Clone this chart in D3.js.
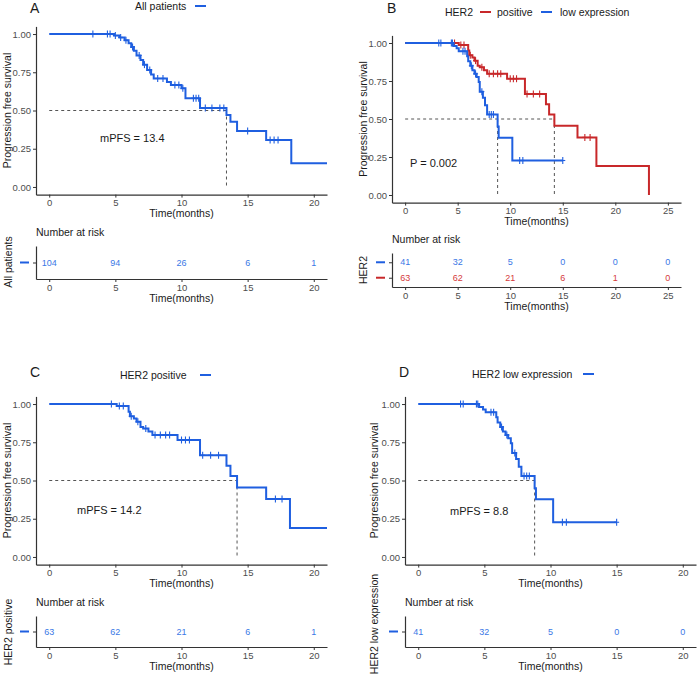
<!DOCTYPE html>
<html>
<head>
<meta charset="utf-8">
<script src="https://cdn.jsdelivr.net/npm/d3@7"></script>
<style>
  body { margin: 0; background: #fff; }
  text { font-family: "Liberation Sans", Arial, sans-serif; }
</style>
</head>
<body>
<div id="chart"></div>
<script>
// ---- data ----
// all patients: event times and survival after each step
var allT = [0, 4.9, 5.3, 5.7, 6.0, 6.2, 6.4, 6.6, 6.9, 7.1, 7.4, 7.7, 7.9, 8.9, 9.2, 10.0, 10.3, 11.4, 13.4, 13.7, 14.2, 16.4, 18.3];
var allS = [1, 0.99, 0.978, 0.96, 0.94, 0.915, 0.89, 0.86, 0.83, 0.80, 0.765, 0.735, 0.71, 0.686, 0.667, 0.645, 0.58, 0.516, 0.47, 0.427, 0.366, 0.307, 0.155];
var allCens = [3.3, 4.4, 4.6, 5.0, 5.4, 5.8, 6.3, 6.8, 7.2, 7.6, 8.2, 8.6, 9.5, 9.8, 10.1, 10.9, 11.1, 11.3, 11.8, 12.3, 12.9, 13.2, 15.0, 16.7, 17.0, 17.3];
var allEnd = 21;

// HER2 positive
var posT = [0, 5.1, 6.0, 6.1, 6.4, 6.6, 6.9, 7.1, 7.5, 7.8, 9.7, 11.4, 13.4, 13.7, 14.2, 16.4, 18.2, 23.2];
var posS = [1, 0.987, 0.95, 0.92, 0.905, 0.884, 0.85, 0.84, 0.82, 0.797, 0.765, 0.665, 0.597, 0.53, 0.455, 0.379, 0.19, 0];
var posCens = [4.7, 5.3, 5.6, 6.2, 6.7, 7.3, 8.0, 8.4, 8.8, 9.1, 10.0, 10.3, 10.6, 11.6, 12.2, 12.8, 17.1, 17.6];
var posEnd = 23.2;

// HER2 low expression
var lowT = [0, 4.6, 4.9, 5.1, 5.9, 6.0, 6.2, 6.4, 6.6, 6.8, 7.0, 7.1, 7.4, 7.6, 7.8, 8.8, 8.9, 10.2];
var lowS = [1, 0.98, 0.965, 0.946, 0.913, 0.88, 0.85, 0.82, 0.797, 0.776, 0.743, 0.68, 0.64, 0.59, 0.53, 0.45, 0.377, 0.227];
var lowCens = [3.2, 3.4, 4.4, 4.5, 5.5, 5.7, 6.3, 6.7, 7.3, 8.0, 8.2, 8.4, 10.9, 11.2, 15.0];
var lowEnd = 15.0;

var medAll = 13.4, medPos = 14.2, medLow = 8.8;
var pValue = "0.002";

var yTicks = [0, 0.25, 0.5, 0.75, 1];
var riskTicks20 = [0, 5, 10, 15, 20];
var riskTicks25 = [0, 5, 10, 15, 20, 25];
var riskAll = [104, 94, 26, 6, 1];
var riskPos = [63, 62, 21, 6, 1];
var riskLow = [41, 32, 5, 0, 0];
var riskPosB = [63, 62, 21, 6, 1, 0];
var riskLowB = [41, 32, 5, 0, 0, 0];

var blue = "#1f5fe0", red = "#c8282a";
var blueTxt = "#3a78e6", redTxt = "#d53a3a";
var axisCol = "#333333", tickCol = "#4d4d4d";

var svg = d3.select("#chart").append("svg")
  .attr("width", 697).attr("height", 675);

function styleAxis(g) {
  g.selectAll("path.domain").attr("stroke", axisCol).attr("stroke-width", 1.2);
  g.selectAll(".tick line").attr("stroke", axisCol).attr("stroke-width", 1);
  g.selectAll(".tick text").attr("fill", tickCol).style("font-size", "9.5px")
    .style("font-family", "'Liberation Sans', Arial, sans-serif");
}

function label(x, y, txt, size, opts) {
  opts = opts || {};
  var t = svg.append("text")
    .attr("x", x).attr("y", y)
    .attr("dominant-baseline", "central")
    .attr("text-anchor", opts.anchor || "start")
    .style("font-size", size + "px")
    .attr("fill", opts.fill || "#1a1a1a")
    .text(txt);
  if (opts.rotate) t.attr("transform", "rotate(-90," + x + "," + y + ")").attr("text-anchor", "middle");
  return t;
}

function survAt(T, S, t) {
  var s = S[0];
  for (var i = 0; i < T.length; i++) { if (T[i] <= t) s = S[i]; }
  return s;
}

// main KM panel
function kmPanel(o) {
  var x = d3.scaleLinear().domain([-0.05 * o.xMax, 1.05 * o.xMax]).range([o.left, o.right]);
  var y = d3.scaleLinear().domain([-0.05, 1.05]).range([o.bottom, o.top]);
  var xLim = 1.05 * o.xMax;

  var ga = svg.append("g").attr("transform", "translate(" + o.left + ",0)")
    .call(d3.axisLeft(y).tickValues(yTicks).tickFormat(d3.format(".2f")).tickSize(3).tickSizeOuter(0).tickPadding(2));
  styleAxis(ga);
  var gb = svg.append("g").attr("transform", "translate(0," + o.bottom + ")")
    .call(d3.axisBottom(x).tickValues(d3.range(0, o.xMax + 1, 5)).tickSize(3).tickSizeOuter(0).tickPadding(2));
  styleAxis(gb);

  // median lines
  var dash = svg.append("g").attr("stroke", "#555").attr("stroke-width", 1).attr("stroke-dasharray", "3,3").attr("fill", "none");
  dash.append("line").attr("x1", x(0)).attr("x2", x(d3.max(o.medians))).attr("y1", y(0.5)).attr("y2", y(0.5));
  o.medians.forEach(function (m) {
    dash.append("line").attr("x1", x(m)).attr("x2", x(m)).attr("y1", y(0.5)).attr("y2", y(0));
  });

  var line = d3.line().x(function (d) { return x(d[0]); }).y(function (d) { return y(d[1]); }).curve(d3.curveStepAfter);

  o.curves.forEach(function (c) {
    var pts = [];
    c.T.forEach(function (t, i) { if (t <= xLim) pts.push([t, c.S[i]]); });
    var e = Math.min(c.end, xLim);
    pts.push([e, survAt(c.T, c.S, e)]);
    svg.append("path").attr("d", line(pts)).attr("fill", "none")
      .attr("stroke", c.color).attr("stroke-width", 2);
    var cg = svg.append("g").attr("stroke", c.color).attr("stroke-width", 1.1);
    c.cens.forEach(function (t) {
      if (t > xLim) return;
      var cx = x(t), cy = y(survAt(c.T, c.S, t));
      cg.append("line").attr("x1", cx - 2.5).attr("x2", cx + 2.5).attr("y1", cy).attr("y2", cy);
      cg.append("line").attr("x1", cx).attr("x2", cx).attr("y1", cy - 3.5).attr("y2", cy + 3.5);
    });
  });

  label((o.left + o.right) / 2, o.bottom + 18.5, "Time(months)", 10.5, {anchor: "middle"});
  label(o.yTitleX, (o.top + o.bottom) / 2, "Progression free survival", 10.5, {rotate: true});
  label(o.noteX, o.noteY, o.note, 11);
}

// risk table panel
function riskPanel(o) {
  var x = d3.scaleLinear().domain([-0.05 * o.xMax, 1.05 * o.xMax]).range([o.left, o.right]);
  var n = o.rows.length;
  var y = d3.scaleLinear().domain([0.4, n + 0.6]).range([o.top, o.bottom]);

  var ga = svg.append("g").attr("transform", "translate(" + o.left + ",0)")
    .call(d3.axisLeft(y).tickValues(d3.range(1, n + 1)).tickFormat("").tickSize(3).tickSizeOuter(0));
  styleAxis(ga);
  var gb = svg.append("g").attr("transform", "translate(0," + o.bottom + ")")
    .call(d3.axisBottom(x).tickValues(o.ticks).tickSize(3).tickSizeOuter(0).tickPadding(2));
  styleAxis(gb);

  o.rows.forEach(function (r, i) {
    var yy = y(i + 1);
    svg.append("line").attr("x1", o.left - 16).attr("x2", o.left - 7).attr("y1", yy).attr("y2", yy)
      .attr("stroke", r.color).attr("stroke-width", 2);
    svg.selectAll(null).data(r.vals).enter().append("text")
      .attr("x", function (d, j) { return x(o.ticks[j]); })
      .attr("y", yy)
      .attr("dominant-baseline", "central").attr("text-anchor", "middle")
      .style("font-size", "9px").attr("fill", r.txt)
      .text(function (d) { return d; });
  });

  label(o.left, o.top - 14, "Number at risk", 10.5);
  label((o.left + o.right) / 2, o.bottom + 19, "Time(months)", 10.5, {anchor: "middle"});
  label(o.yTitleX, o.yTitleY, o.yTitle, 10.5, {rotate: true});
}

function legendDash(x, y, color) {
  svg.append("line").attr("x1", x).attr("x2", x + 11).attr("y1", y).attr("y2", y)
    .attr("stroke", color).attr("stroke-width", 2);
}

// ---- Panel A ----
label(30, 8, "A", 14);
label(135, 6, "All patients", 10.5);
legendDash(195, 6, blue);
kmPanel({left: 36, right: 327, top: 26.4, bottom: 194.6, xMax: 20,
  curves: [{T: allT, S: allS, cens: allCens, end: allEnd, color: blue}],
  medians: [medAll], yTitleX: 7, note: "mPFS = " + medAll, noteX: 100, noteY: 138});
riskPanel({left: 36, right: 327, top: 246, bottom: 279, xMax: 20, ticks: riskTicks20,
  rows: [{vals: riskAll, color: blue, txt: blueTxt}],
  yTitle: "All patients", yTitleX: 8, yTitleY: 262});

// ---- Panel B ----
label(387, 8, "B", 14);
label(445, 12, "HER2", 10.5);
legendDash(480, 12, red);
label(497, 12, "positive", 10.5);
legendDash(541, 12, blue);
label(560, 12, "low expression", 10.5);
kmPanel({left: 392, right: 681, top: 35.4, bottom: 202.6, xMax: 25,
  curves: [{T: posT, S: posS, cens: posCens, end: posEnd, color: red},
           {T: lowT, S: lowS, cens: lowCens, end: lowEnd, color: blue}],
  medians: [medLow, medPos], yTitleX: 363, note: "P = " + pValue, noteX: 410, noteY: 163});
riskPanel({left: 392, right: 681, top: 253, bottom: 287, xMax: 25, ticks: riskTicks25,
  rows: [{vals: riskLowB, color: blue, txt: blueTxt}, {vals: riskPosB, color: red, txt: redTxt}],
  yTitle: "HER2", yTitleX: 363, yTitleY: 270});

// ---- Panel C ----
label(30, 372, "C", 14);
label(120, 375, "HER2 positive", 10.5);
legendDash(200, 375, blue);
kmPanel({left: 36, right: 327, top: 396.4, bottom: 564.6, xMax: 20,
  curves: [{T: posT, S: posS, cens: posCens, end: posEnd, color: blue}],
  medians: [medPos], yTitleX: 7, note: "mPFS = " + medPos, noteX: 77, noteY: 510});
riskPanel({left: 36, right: 327, top: 616, bottom: 647, xMax: 20, ticks: riskTicks20,
  rows: [{vals: riskPos, color: blue, txt: blueTxt}],
  yTitle: "HER2 positive", yTitleX: 8, yTitleY: 632});

// ---- Panel D ----
label(399, 372, "D", 14);
label(472, 374, "HER2 low expression", 10.5);
legendDash(583, 374, blue);
kmPanel({left: 405, right: 696, top: 396.4, bottom: 564.6, xMax: 20,
  curves: [{T: lowT, S: lowS, cens: lowCens, end: lowEnd, color: blue}],
  medians: [medLow], yTitleX: 374, note: "mPFS = " + medLow, noteX: 450, noteY: 511});
riskPanel({left: 405, right: 696, top: 616, bottom: 647, xMax: 20, ticks: riskTicks20,
  rows: [{vals: riskLow, color: blue, txt: blueTxt}],
  yTitle: "HER2 low expression", yTitleX: 374, yTitleY: 624});
</script>
</body>
</html>
